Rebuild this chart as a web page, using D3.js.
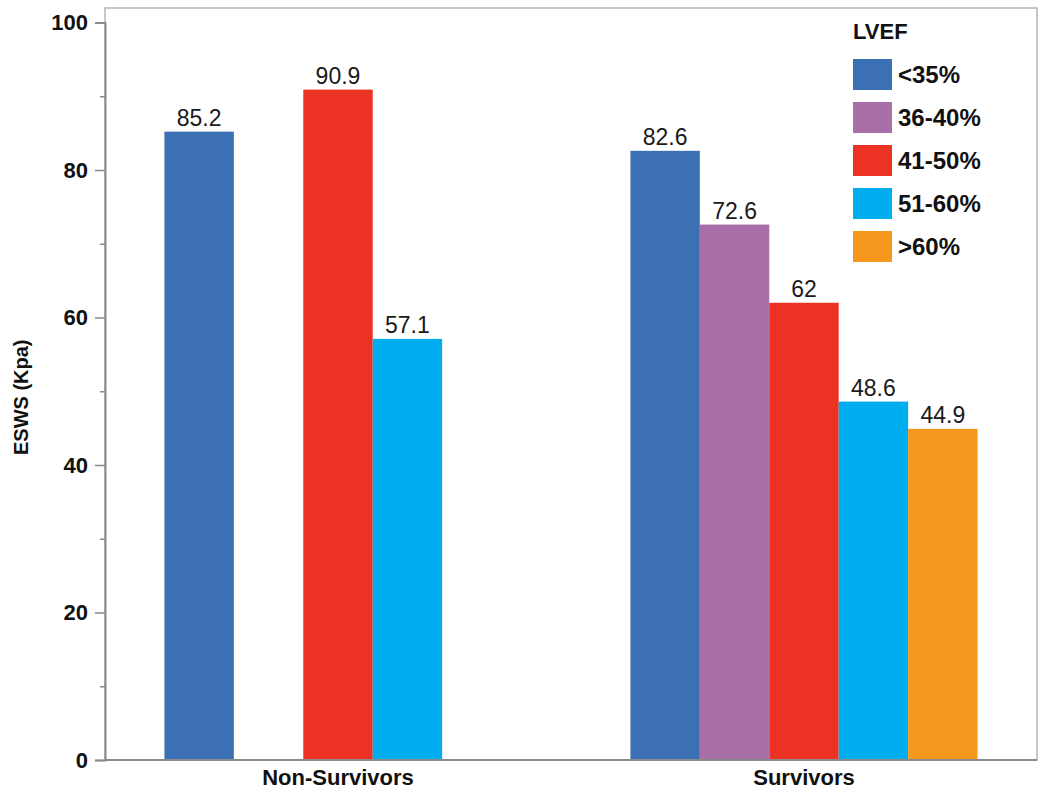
<!DOCTYPE html>
<html>
<head>
<meta charset="utf-8">
<script src="https://cdn.jsdelivr.net/npm/d3@7"></script>
<style>
  body { margin: 0; background: #fff; }
  text { font-family: "Liberation Sans", Arial, Helvetica, sans-serif; }
</style>
</head>
<body>
<svg id="chart" width="1050" height="803"></svg>
<script>
const groups = ["Non-Survivors", "Survivors"];
const seriesNames = ["<35%", "36-40%", "41-50%", "51-60%", ">60%"];
const seriesColors = ["#3b70b5", "#a86fa8", "#ec3223", "#00aeef", "#f7981e"];
const nonSurvivors = [85.2, null, 90.9, 57.1, null];
const survivors = [82.6, 72.6, 62, 48.6, 44.9];
const yTicks = [0, 20, 40, 60, 80, 100];
const yMinorTicks = [10, 30, 50, 70, 90];
const yTitle = "ESWS (Kpa)";
const legendTitle = "LVEF";

(function () {
const values = [nonSurvivors, survivors];
const svg = d3.select("#chart");

const mLeft = 105, mRight = 1037, mTop = 8, mBottom = 760;

const y = d3.scaleLinear().domain([0, 100]).range([mBottom, 22.5]);
const x0 = d3.scaleBand().domain(groups).range([mLeft, mRight]).paddingInner(0.255).paddingOuter(0.1275);
const x1 = d3.scaleBand().domain(seriesNames).range([0, x0.bandwidth()]);

// frame
svg.append("rect").attr("x", mLeft).attr("y", mTop).attr("width", mRight - mLeft).attr("height", mBottom - mTop)
  .attr("fill", "none").attr("stroke", "#b5b5b5").attr("stroke-width", 1.5);

// bars
groups.forEach((g, gi) => {
  const gEl = svg.append("g").attr("transform", `translate(${x0(g)},0)`);
  seriesNames.forEach((s, si) => {
    const v = values[gi][si];
    if (v == null) return;
    gEl.append("rect")
      .attr("x", x1(s)).attr("width", x1.bandwidth())
      .attr("y", y(v)).attr("height", y(0) - y(v))
      .attr("fill", seriesColors[si]);
    gEl.append("text")
      .attr("x", x1(s) + x1.bandwidth() / 2).attr("y", y(v) - 6)
      .attr("text-anchor", "middle").attr("font-size", 23).attr("fill", "#1a1a1a")
      .text(v);
  });
});

// y axis
const yAxis = d3.axisLeft(y).tickValues(yTicks).tickSize(10).tickPadding(7);
const ya = svg.append("g").attr("transform", `translate(${mLeft},0)`).call(yAxis);
ya.select(".domain").attr("stroke", "#8a8a8a").attr("stroke-width", 2);
ya.selectAll(".tick line").attr("stroke", "#8a8a8a").attr("stroke-width", 1.5);
ya.selectAll(".tick text").attr("font-size", 22).attr("font-weight", "bold").attr("fill", "#111")
  .attr("font-family", "Liberation Sans, Arial, sans-serif");
const yMinor = d3.axisLeft(y).tickValues(yMinorTicks).tickSize(5).tickFormat("");
const ym = svg.append("g").attr("transform", `translate(${mLeft},0)`).call(yMinor);
ym.select(".domain").remove();
ym.selectAll(".tick line").attr("stroke", "#8a8a8a").attr("stroke-width", 1.5);

// x axis
const xAxis = d3.axisBottom(x0).tickSize(0).tickPadding(9);
const xa = svg.append("g").attr("transform", `translate(0,${mBottom})`).call(xAxis);
xa.select(".domain").attr("d", `M${mLeft},0H${mRight}`).attr("stroke", "#8a8a8a").attr("stroke-width", 2);
xa.selectAll(".tick text").attr("font-size", 22).attr("font-weight", "bold").attr("fill", "#111")
  .attr("font-family", "Liberation Sans, Arial, sans-serif");

// y title
svg.append("text")
  .attr("transform", `translate(28,${(y(0) + y(100)) / 2 + 6}) rotate(-90)`)
  .attr("text-anchor", "middle").attr("font-size", 20).attr("font-weight", "bold").attr("fill", "#111")
  .text(yTitle);

// legend
const lg = svg.append("g").attr("transform", "translate(853,0)");
lg.append("text").attr("x", 0).attr("y", 39).attr("font-size", 22).attr("font-weight", "bold").attr("fill", "#111").text(legendTitle);
seriesNames.forEach((s, i) => {
  const yy = 59 + i * 43;
  lg.append("rect").attr("x", 0).attr("y", yy).attr("width", 39).attr("height", 31).attr("fill", seriesColors[i]);
  lg.append("text").attr("x", 45).attr("y", yy + 15.5).attr("dy", "0.36em")
    .attr("font-size", 24).attr("font-weight", "bold").attr("fill", "#111").text(s);
});
})();
</script>
</body>
</html>
